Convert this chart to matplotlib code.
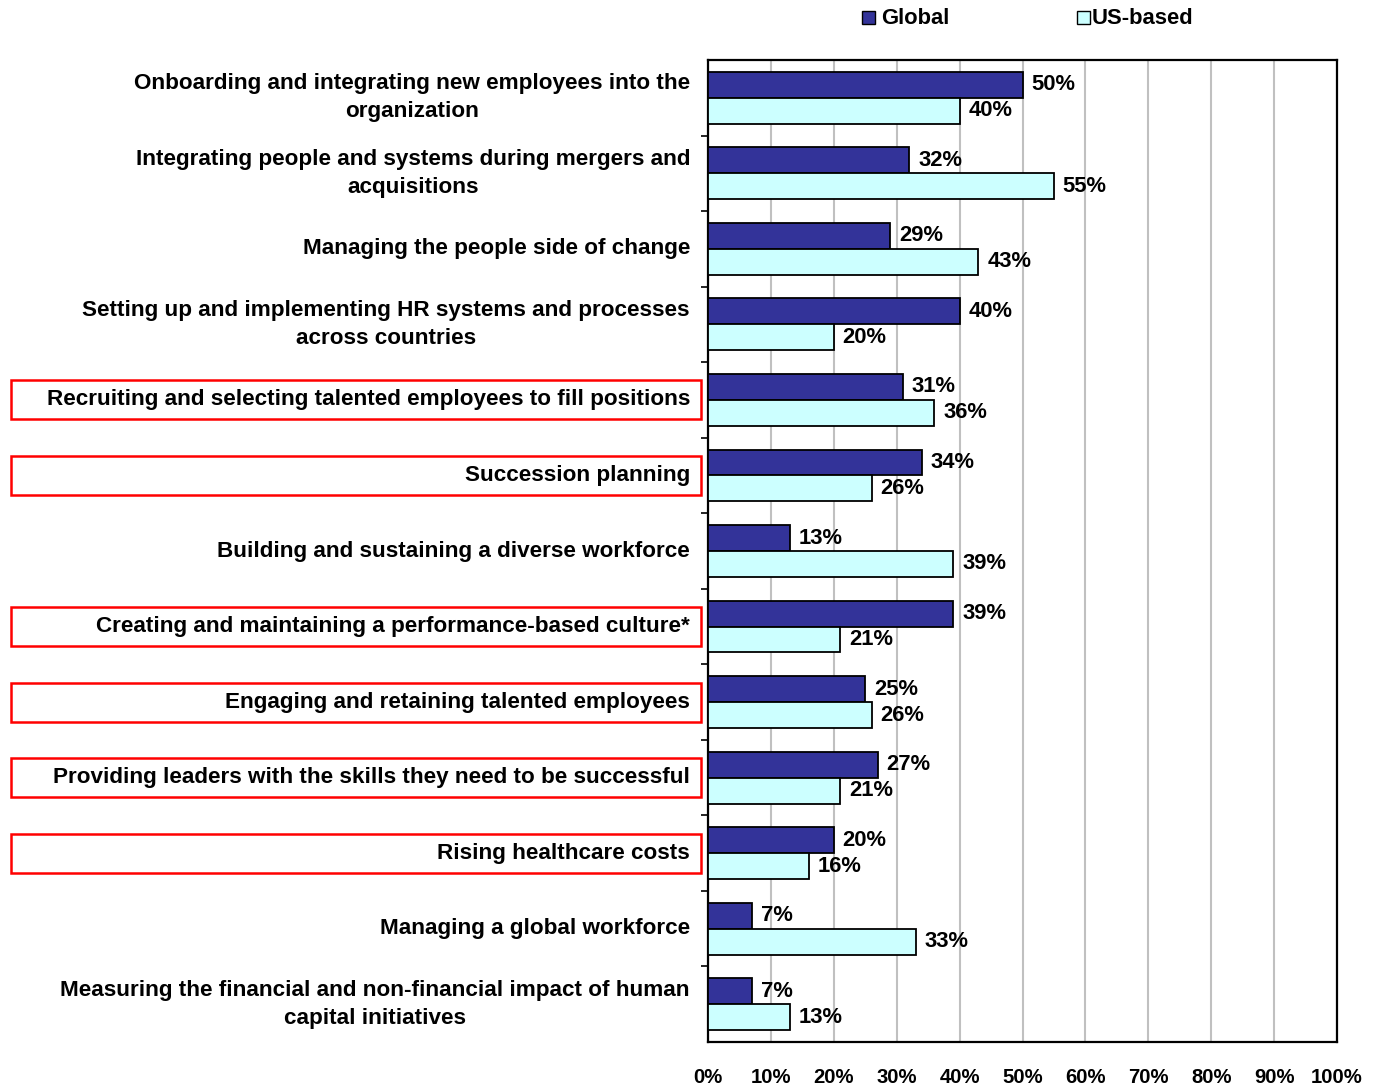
import matplotlib
matplotlib.use("Agg")
import matplotlib.pyplot as plt
from matplotlib.patches import Rectangle
import numpy as np

plt.rcParams["font.family"] = ["Liberation Sans", "DejaVu Sans"]
plt.rcParams["font.weight"] = "bold"

categories = [
    "Onboarding and integrating new employees into the\norganization",
    "Integrating people and systems during mergers and\nacquisitions",
    "Managing the people side of change",
    "Setting up and implementing HR systems and processes\nacross countries",
    "Recruiting and selecting talented employees to fill positions",
    "Succession planning",
    "Building and sustaining a diverse workforce",
    "Creating and maintaining a performance-based culture*",
    "Engaging and retaining talented employees",
    "Providing leaders with the skills they need to be successful",
    "Rising healthcare costs",
    "Managing a global workforce",
    "Measuring the financial and non-financial impact of human\ncapital initiatives",
]
global_pct = [50, 32, 29, 40, 31, 34, 13, 39, 25, 27, 20, 7, 7]
us_pct = [40, 55, 43, 20, 36, 26, 39, 21, 26, 21, 16, 33, 13]
highlighted = [
    "Recruiting and selecting talented employees to fill positions",
    "Succession planning",
    "Creating and maintaining a performance-based culture*",
    "Engaging and retaining talented employees",
    "Providing leaders with the skills they need to be successful",
    "Rising healthcare costs",
]
x_ticks = list(range(0, 101, 10))

NAVY = "#333399"
CYAN = "#CCFFFF"

W, H = 1385, 1086
fig = plt.figure(figsize=(W / 100, H / 100), dpi=100)
ax = fig.add_axes([708 / W, 1 - 1042 / H, (1337 - 708) / W, (1042 - 60) / H])

n = len(categories)
centers = np.arange(n) + 0.5
bh = 0.343
ax.barh(centers - bh / 2, global_pct, height=bh, color=NAVY, edgecolor="black",
        linewidth=1.3, zorder=3)
ax.barh(centers + bh / 2, us_pct, height=bh, color=CYAN, edgecolor="black",
        linewidth=1.3, zorder=3)

fs = 15.8
for c, g, u in zip(centers, global_pct, us_pct):
    ax.text(g + 1.4, c - bh / 2, f"{g}%", ha="left", va="center", fontsize=fs,
            fontweight="bold", zorder=4)
    ax.text(u + 1.4, c + bh / 2, f"{u}%", ha="left", va="center", fontsize=fs,
            fontweight="bold", zorder=4)

ax.set_xlim(0, 100)
ax.set_ylim(n, 0)
ax.set_xticks(x_ticks)
ax.set_xticklabels([f"{t}%" for t in x_ticks], fontsize=14.6, fontweight="bold")
ax.tick_params(axis="x", length=0, pad=19)
ax.set_yticks(np.arange(1, n))
ax.set_yticklabels([])
ax.tick_params(axis="y", direction="out", length=5, width=1.2)
ax.xaxis.grid(True, color="#C0C0C0", linewidth=1.5, zorder=0)
ax.set_axisbelow(True)
for s in ax.spines.values():
    s.set_linewidth(1.6)
    s.set_color("black")

# category labels and red highlight frames, placed in figure pixels
for i, (c, label) in enumerate(zip(centers, categories)):
    y_fig = 1 - (60 + c * (1042 - 60) / n) / H
    fig.text(690 / W, y_fig, label, ha="right", va="center", multialignment="center",
             fontsize=16.2, fontweight="bold", linespacing=1.43)
    if label in highlighted:
        fig.patches.append(Rectangle((11 / W, y_fig - 19.5 / H), 690 / W, 39 / H,
                                     transform=fig.transFigure, fill=False,
                                     edgecolor="#FF0000", linewidth=1.8))

# legend row
fig.patches.append(Rectangle((862 / W, 1 - 24 / H), 13 / W, 13 / H, transform=fig.transFigure,
                             facecolor=NAVY, edgecolor="black", linewidth=1))
fig.text(881 / W, 1 - 18 / H, "Global", ha="left", va="center", fontsize=fs, fontweight="bold")
fig.patches.append(Rectangle((1077 / W, 1 - 24 / H), 13 / W, 13 / H, transform=fig.transFigure,
                             facecolor=CYAN, edgecolor="black", linewidth=1))
fig.text(1092 / W, 1 - 18 / H, "US-based", ha="left", va="center", fontsize=fs, fontweight="bold")

fig.savefig("out.png", dpi=100)
